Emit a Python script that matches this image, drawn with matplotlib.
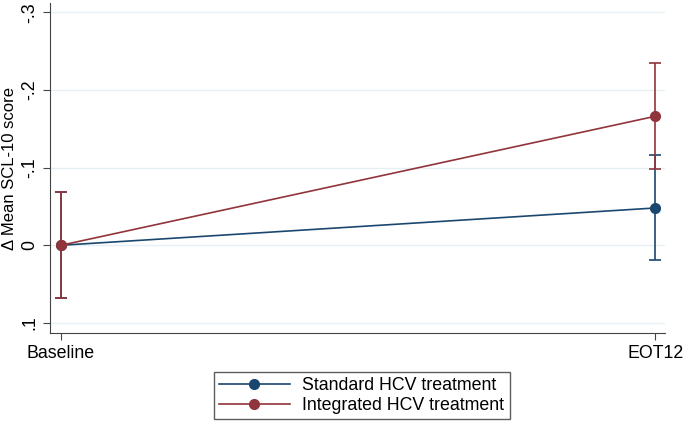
import matplotlib.pyplot as plt
from matplotlib.lines import Line2D

plt.rcParams['font.family'] = ['Liberation Sans', 'DejaVu Sans']

# Data
timepoints = ["Baseline", "EOT12"]
standard_mean = [0.0, -0.048]
standard_lo = [-0.068, -0.116]
standard_hi = [0.068, 0.019]
integrated_mean = [0.0, -0.166]
integrated_lo = [-0.068, -0.234]
integrated_hi = [0.068, -0.098]
yticks = [-0.3, -0.2, -0.1, 0.0, 0.1]
ytick_labels = ["-.3", "-.2", "-.1", "0", ".1"]

navy = "#1a476f"
maroon = "#90353b"

fig = plt.figure(figsize=(6.85, 4.25), dpi=100)
ax = fig.add_axes([0.073, 0.2165, 0.898, 0.776])

x = list(range(len(timepoints)))

handles = []
for mean, lo, hi, col, lab in [
    (standard_mean, standard_lo, standard_hi, navy, "Standard HCV treatment"),
    (integrated_mean, integrated_lo, integrated_hi, maroon, "Integrated HCV treatment"),
]:
    err = [[m - l for m, l in zip(mean, lo)], [h - m for m, h in zip(mean, hi)]]
    ax.errorbar(x, mean, yerr=err, color=col, ecolor=col, linewidth=1.2,
                elinewidth=1.2, capsize=4.5, capthick=1.2, marker="o",
                markersize=7, zorder=3)
    handles.append(Line2D([], [], color=col, linewidth=1.2, marker="o",
                          markersize=7, label=lab))

ax.set_xlim(-0.0185, 1.0168)
ax.set_ylim(0.1129, -0.3116)
ax.set_xticks(x)
ax.set_xticklabels(timepoints, fontsize=12.8)
ax.set_yticks(yticks)
ax.set_yticklabels(ytick_labels, rotation=90, va="center", fontsize=12.8)
ax.set_ylabel("Δ Mean SCL-10 score", fontsize=12, labelpad=3)

for t in yticks:
    ax.axhline(t, color="#e6eff4", linewidth=1, zorder=0)

ax.spines["top"].set_visible(False)
ax.spines["right"].set_visible(False)
ax.spines["left"].set_color("#444444")
ax.spines["bottom"].set_color("#444444")
ax.tick_params(direction="out", length=5, color="#444444")

fig.legend(handles=handles, loc="center", bbox_to_anchor=(0.528, 0.0694),
           ncol=1, fontsize=12.8, frameon=True, fancybox=False,
           edgecolor="#333333", handlelength=4, handletextpad=0.7,
           borderpad=0.3, borderaxespad=0, labelspacing=0.15)

plt.savefig("out.png", dpi=100)
